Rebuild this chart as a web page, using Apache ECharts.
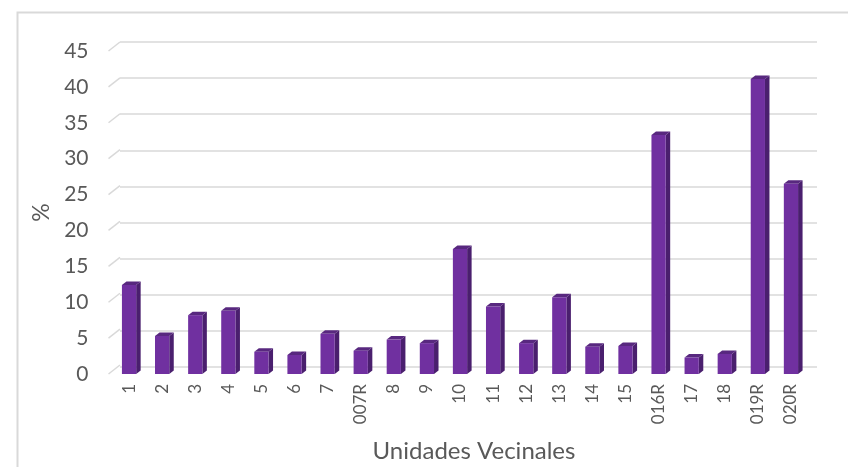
<!DOCTYPE html>
<html>
<head>
<meta charset="utf-8">
<script src="https://cdn.jsdelivr.net/npm/echarts@6/dist/echarts.min.js"></script>
<style>
  html, body { margin: 0; padding: 0; background: #fff; }
  #chart { width: 848px; height: 467px; }
</style>
</head>
<body>
<div id="chart"></div>
<script>
// Unidades Vecinales (categorias) y porcentaje
var categories = ['1', '2', '3', '4', '5', '6', '7', '007R', '8', '9', '10', '11', '12', '13', '14', '15', '016R', '17', '18', '019R', '020R'];
var values = [12.4, 5.3, 8.2, 8.8, 3.1, 2.65, 5.6, 3.25, 4.8, 4.3, 17.4, 9.4, 4.3, 10.7, 3.8, 3.9, 33.3, 2.3, 2.8, 41.1, 26.5];
var yTicks = [0, 5, 10, 15, 20, 25, 30, 35, 40, 45];

var font = 'Lato, "Open Sans", sans-serif';
var grey = '#595959';

var chart = echarts.init(document.getElementById('chart'));

// barra "3D": cara frontal, lateral y tapa
function bar3d(params, api) {
  var idx = api.value(0), v = api.value(1);
  var top = api.coord([idx, v]);
  var base = api.coord([idx, 0]);
  var band = api.size([1, 0])[0];
  var w = band * 0.43, d = 4.5, h = 3.5;
  var x0 = top[0] - w / 2, x1 = x0 + w;
  return {
    type: 'group',
    children: [
      { type: 'polygon', shape: { points: [[x1, top[1]], [x1 + d, top[1] - h], [x1 + d, base[1] - h], [x1, base[1]]] },
        style: { fill: '#4a1f6e' } },
      { type: 'polygon', shape: { points: [[x0, top[1]], [x0 + d, top[1] - h], [x1 + d, top[1] - h], [x1, top[1]]] },
        style: { fill: '#58287f' } },
      { type: 'rect', shape: { x: x0, y: top[1], width: w, height: base[1] - top[1] },
        style: { fill: '#7030a0' } }
    ]
  };
}

// pequeñas diagonales a la izquierda de cada linea de la pared
function wallTicks(params, api) {
  var p = api.coord([0, api.value(0)]);
  var cs = params.coordSys;
  return { type: 'line', shape: { x1: cs.x - 4, y1: p[1], x2: cs.x + 7.5, y2: p[1] - 9 },
    style: { stroke: '#d9d9d9', lineWidth: 1.5 } };
}

chart.setOption({
  animation: false,
  graphic: [{
    type: 'rect', left: 15, top: 10, shape: { width: 900, height: 500 },
    style: { fill: 'none', stroke: '#d9d9d9', lineWidth: 2 }, silent: true
  }],
  grid: [
    { left: 112.5, right: 40.5, top: 51, bottom: 93, outerBoundsMode: 'none', containLabel: false },
    { left: 120, right: 31, top: 42, bottom: 100, outerBoundsMode: 'none', containLabel: false }
  ],
  xAxis: [{
    type: 'category', gridIndex: 0, data: categories,
    axisLine: { show: false }, axisTick: { show: false },
    axisLabel: { rotate: 90, interval: 0, margin: 10, color: grey, fontFamily: font, fontSize: 17 },
    name: 'Unidades Vecinales', nameLocation: 'middle', nameGap: 65,
    nameTextStyle: { color: grey, fontFamily: font, fontSize: 24, padding: [0, 0, 0, 28] }
  }, {
    type: 'category', gridIndex: 1, data: categories, show: false
  }],
  yAxis: [{
    type: 'value', gridIndex: 0, min: 0, max: 45, interval: 5,
    splitLine: { show: false }, axisLine: { show: false }, axisTick: { show: false },
    axisLabel: { margin: 24, color: grey, fontFamily: font, fontSize: 21 },
    name: '%', nameLocation: 'middle', nameRotate: 90, nameGap: 57,
    nameTextStyle: { color: grey, fontFamily: font, fontSize: 23 }
  }, {
    type: 'value', gridIndex: 1, min: 0, max: 45, interval: 5,
    axisLabel: { show: false }, axisLine: { show: false }, axisTick: { show: false },
    splitLine: { lineStyle: { color: '#d9d9d9', width: 1.5 } }
  }],
  series: [{
    type: 'custom', xAxisIndex: 0, yAxisIndex: 0,
    renderItem: wallTicks, data: yTicks.map(function (t) { return [t]; }),
    encode: { y: 0 }, silent: true, z: 1
  }, {
    type: 'custom', xAxisIndex: 0, yAxisIndex: 0,
    renderItem: bar3d,
    data: values.map(function (v, i) { return [i, v]; }),
    encode: { x: 0, y: 1 }, z: 3
  }]
});
</script>
</body>
</html>
